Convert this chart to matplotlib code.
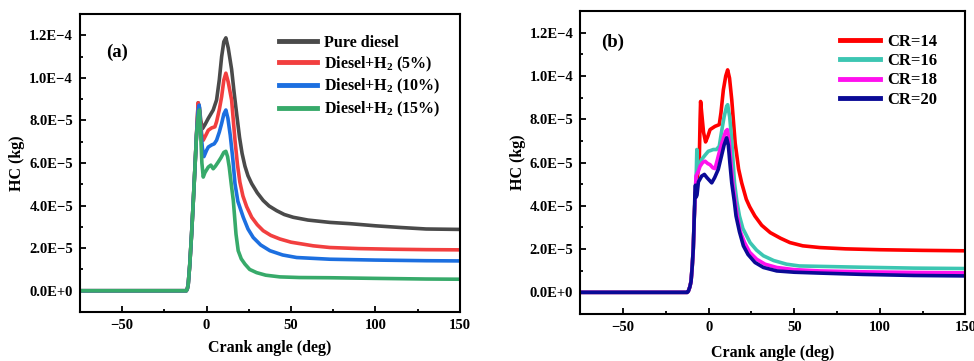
import matplotlib
matplotlib.use("Agg")
import matplotlib.pyplot as plt
from matplotlib.ticker import FuncFormatter, MultipleLocator
import numpy as np

#### Style ####
plt.rcParams['font.family'] = ['Liberation Serif', 'DejaVu Serif']
plt.rcParams['font.weight'] = 'bold'
plt.rcParams['mathtext.fontset'] = 'custom'
plt.rcParams['mathtext.rm'] = 'Liberation Serif:bold'
plt.rcParams['mathtext.it'] = 'Liberation Serif:bold'
plt.rcParams['mathtext.bf'] = 'Liberation Serif:bold'

#### Data (HC in units of 1E-5 kg) ####
# panel (a): hydrogen blend
a_black_x = [-75, -12, -11.4, -10.9, -10, -8.9, -7.9, -6.9, -6, -5, -4.2, -3.5, -2.4, -1, 1, 3.9, 5.9, 7.5,
             8.9, 10.2, 11.4, 12.8, 14.8, 16.3, 17.8, 19.5, 21, 22.7, 24.5, 26.7, 30, 33.5, 37, 41.5, 46,
             51.3, 60, 73, 85, 100, 115, 130, 150]
a_black_y = [0, 0, 0.1, 0.3, 1.2, 2.66, 4.2, 5.8, 7.3, 8.83, 8.6, 8.0, 7.62, 7.8, 8.1, 8.49, 8.96, 9.9,
             11.0, 11.7, 11.88, 11.4, 10.4, 9.3, 8.3, 7.2, 6.45, 5.85, 5.4, 5.03, 4.6, 4.24, 3.98, 3.76,
             3.58, 3.45, 3.32, 3.21, 3.15, 3.05, 2.97, 2.9, 2.88]

a_red_x = [-75, -12, -11.4, -10.9, -10, -8.9, -7.9, -6.9, -6, -5, -4, -3, -2, -0.5, 1, 3, 4.9, 5.9, 7.5,
           8.9, 10.2, 11.4, 12.8, 14.8, 16.8, 18.3, 19.7, 21.5, 23.7, 26.7, 30, 33.5, 38, 43.4, 50, 63.1,
           73, 90, 110, 130, 150]
a_red_y = [0, 0, 0.1, 0.3, 1.2, 2.66, 4.2, 5.8, 7.3, 8.83, 8.3, 7.4, 7.07, 7.3, 7.54, 7.65, 7.7, 7.94, 8.5,
           9.12, 9.9, 10.22, 9.8, 8.96, 7.07, 5.9, 5.1, 4.45, 3.95, 3.45, 3.1, 2.82, 2.6, 2.43, 2.28, 2.11,
           2.03, 1.98, 1.95, 1.93, 1.92]

a_blue_x = [-75, -12, -11.4, -10.9, -10, -8.9, -7.9, -6.9, -6, -5, -4.4, -3.5, -2.5, -1.6, 0, 1, 3, 4.5,
            5.9, 7.5, 8.9, 10.2, 11.4, 12.6, 14, 15.5, 16.8, 18.5, 21.7, 24.5, 27.6, 32, 37.5, 45, 53.3,
            73, 100, 130, 150]
a_blue_y = [0, 0, 0.1, 0.3, 1.2, 2.66, 4.2, 5.8, 7.3, 8.5, 8.72, 7.6, 6.7, 6.3, 6.6, 6.75, 6.85, 6.9,
            7.07, 7.45, 7.86, 8.3, 8.49, 8.1, 7.3, 6.2, 5.03, 4.2, 3.45, 2.9, 2.5, 2.15, 1.88, 1.68, 1.56,
            1.48, 1.44, 1.41, 1.4]

a_green_x = [-75, -12, -11.4, -10.9, -10, -8.9, -7.9, -6.9, -6, -5, -4.3, -3.6, -2.8, -2, -1, 1, 2.5, 3.9,
             5.2, 6.9, 8.5, 10.2, 11.4, 12.4, 13.4, 14.6, 15.8, 17.4, 18.7, 20.5, 22.7, 25.5, 29.6, 35,
             43.4, 55, 73, 100, 130, 150]
a_green_y = [0, 0, 0.1, 0.3, 1.2, 2.66, 4.2, 5.8, 7.3, 8.2, 8.49, 7.5, 6.0, 5.34, 5.55, 5.81, 5.9, 5.73,
             5.85, 6.05, 6.25, 6.5, 6.55, 6.3, 5.81, 5.0, 4.24, 2.66, 1.88, 1.5, 1.25, 1.0, 0.85, 0.73,
             0.65, 0.62, 0.61, 0.58, 0.55, 0.54]

a_labels = ['Pure diesel', 'Diesel+H$_2$ (5%)', 'Diesel+H$_2$ (10%)', 'Diesel+H$_2$ (15%)']
a_colors = ['#4a4a4a', '#f23f3f', '#1c6fe0', '#37aa6a']

# panel (b): compression ratio
b_red_x = [-75, -12.5, -11.9, -11, -10.3, -9.6, -9, -8.4, -7.8, -6.5, -5.5, -5.0, -4.7, -4.2, -3, -1.8,
           -0.5, 0.8, 3.7, 6.2, 7.2, 8.6, 10, 11.1, 12.2, 13.5, 15.5, 16.5, 17.5, 19.3, 22, 24, 27, 31, 36,
           42, 47.5, 55, 65, 80, 100, 125, 150]
b_red_y = [0, 0, 0.05, 0.25, 0.5, 1.2, 2.0, 3.5, 4.6, 5.4, 6.0, 8.0, 8.82, 8.4, 7.4, 6.95, 7.2, 7.52,
           7.67, 7.75, 8.3, 9.36, 10.0, 10.28, 9.9, 8.9, 6.9, 6.3, 5.7, 5.06, 4.3, 3.95, 3.53, 3.1, 2.76,
           2.5, 2.3, 2.15, 2.07, 2.01, 1.97, 1.94, 1.92]

b_cyan_x = [-75, -12.5, -11.9, -11, -10.3, -9.6, -9, -8.4, -7.8, -7.2, -6.9, -6.4, -5.5, -4.1, -2, -0.2,
            1, 2.7, 4.5, 6.2, 7.5, 9, 10.5, 11.1, 12.3, 13.5, 15.1, 16.5, 18, 20, 24.2, 28, 32, 38, 45.6,
            53, 65, 90, 120, 150]
b_cyan_y = [0, 0, 0.05, 0.25, 0.5, 1.2, 2.0, 3.5, 4.6, 5.6, 6.6, 5.7, 5.85, 6.14, 6.35, 6.52, 6.55, 6.6,
            6.6, 6.75, 7.4, 8.1, 8.6, 8.67, 8.1, 7.0, 5.06, 4.2, 3.53, 2.95, 2.3, 1.95, 1.69, 1.47, 1.3,
            1.22, 1.2, 1.16, 1.12, 1.1]

b_mag_x = [-75, -12.5, -11.9, -11, -10.3, -9.6, -9, -8.4, -7.8, -7.4, -6, -5, -3.5, -2.1, -0.5, 0.8, 2.5,
           3.7, 5, 6.6, 8.5, 10, 10.9, 12, 13, 14.1, 15.5, 16.7, 18.5, 21, 24, 28.1, 33, 39.8, 50, 65, 90,
           120, 150]
b_mag_y = [0, 0, 0.05, 0.25, 0.5, 1.2, 2.0, 3.5, 4.6, 5.37, 5.6, 5.83, 6.0, 6.06, 5.95, 5.9, 5.75, 5.72,
           6.1, 6.6, 7.1, 7.45, 7.52, 7.0, 6.0, 5.06, 4.2, 3.53, 2.8, 2.3, 1.85, 1.53, 1.3, 1.15, 1.05,
           0.99, 0.95, 0.92, 0.9]

b_navy_x = [-75, -12.5, -11.9, -11, -10.3, -9.6, -9, -8.4, -8, -7.7, -7.3, -6.8, -6, -4.1, -2.5, -1, 1.8,
            3.5, 5.6, 7.5, 9, 10.5, 11.5, 12.5, 13.5, 15, 16, 18, 20.3, 23, 27.1, 32, 39.8, 50, 65, 90,
            120, 150]
b_navy_y = [0, 0, 0.05, 0.25, 0.5, 1.2, 2.0, 3.5, 4.6, 4.95, 4.4, 4.5, 5.1, 5.37, 5.45, 5.3, 5.06, 5.3,
            5.68, 6.3, 6.8, 7.14, 6.8, 5.9, 5.06, 4.2, 3.53, 2.8, 2.15, 1.75, 1.38, 1.15, 0.99, 0.93, 0.89,
            0.83, 0.78, 0.76]

b_labels = ['CR=14', 'CR=16', 'CR=18', 'CR=20']
b_colors = ['#ff0000', '#3cc6b2', '#ff10ee', '#0a0a96']

SCALE = 1e-5


def sci_fmt(v, pos):
    if abs(v) < 1e-12:
        return '0.0E+0'
    exp = int(np.floor(np.log10(abs(v))))
    mant = v / 10 ** exp
    sign = '+' if exp >= 0 else '\u2212'
    return '{:.1f}E{}{}'.format(mant, sign, abs(exp))


def style_axes(ax):
    ax.set_xlim(-75, 150)
    ax.set_ylim(-1e-5, 1.3e-4)
    ax.xaxis.set_major_locator(MultipleLocator(50))
    ax.xaxis.set_minor_locator(MultipleLocator(25))
    ax.yaxis.set_major_locator(MultipleLocator(2e-5))
    ax.yaxis.set_minor_locator(MultipleLocator(1e-5))
    ax.yaxis.set_major_formatter(FuncFormatter(sci_fmt))
    ax.tick_params(which='both', direction='in', width=1.3, labelsize=10.5, pad=5)
    ax.tick_params(which='major', length=4.5)
    ax.tick_params(which='minor', length=2.5)
    for s in ax.spines.values():
        s.set_linewidth(1.5)
    ax.set_xlabel('Crank angle (deg)', fontsize=11.5, fontweight='bold')
    ax.set_ylabel('HC (kg)', fontsize=11.5, fontweight='bold')


fig = plt.figure(figsize=(9.74, 3.61), dpi=100)
ax1 = fig.add_axes([0.0821, 0.1357, 0.3901, 0.8255])
ax2 = fig.add_axes([0.5958, 0.1302, 0.3953, 0.8393])

# panel (a)
series_a = [(a_black_x, a_black_y), (a_red_x, a_red_y), (a_blue_x, a_blue_y), (a_green_x, a_green_y)]
for (xs, ys), c, lab in zip(series_a, a_colors, a_labels):
    ax1.plot(xs, np.array(ys) * SCALE, color=c, lw=2.6, label=lab, solid_joinstyle='round')
style_axes(ax1)
ax1.xaxis.set_label_coords(0.5, -0.094)
ax1.yaxis.set_label_coords(-0.145, 0.5)
ax1.text(0.069, 0.873, '(a)', transform=ax1.transAxes, fontsize=13.5, fontweight='bold', va='center')
ax1.legend(loc='upper left', bbox_to_anchor=(0.524, 0.93), frameon=False, fontsize=11.5,
           handlelength=2.4, handletextpad=0.4, labelspacing=0.22, borderpad=0, borderaxespad=0)
for line in ax1.get_legend().get_lines():
    line.set_linewidth(3.5)

# panel (b)
series_b = [(b_red_x, b_red_y), (b_cyan_x, b_cyan_y), (b_mag_x, b_mag_y), (b_navy_x, b_navy_y)]
for (xs, ys), c, lab in zip(series_b, b_colors, b_labels):
    ax2.plot(xs, np.array(ys) * SCALE, color=c, lw=2.6, label=lab, solid_joinstyle='round')
style_axes(ax2)
ax2.xaxis.set_label_coords(0.5, -0.102)
ax2.yaxis.set_label_coords(-0.142, 0.5)
ax2.text(0.0545, 0.895, '(b)', transform=ax2.transAxes, fontsize=13.5, fontweight='bold', va='center')
ax2.legend(loc='upper left', bbox_to_anchor=(0.675, 0.925), frameon=False, fontsize=12,
           handlelength=2.4, handletextpad=0.4, labelspacing=0.2, borderpad=0, borderaxespad=0)
for line in ax2.get_legend().get_lines():
    line.set_linewidth(3.5)

fig.savefig('out.png', dpi=100)
plt.close()
